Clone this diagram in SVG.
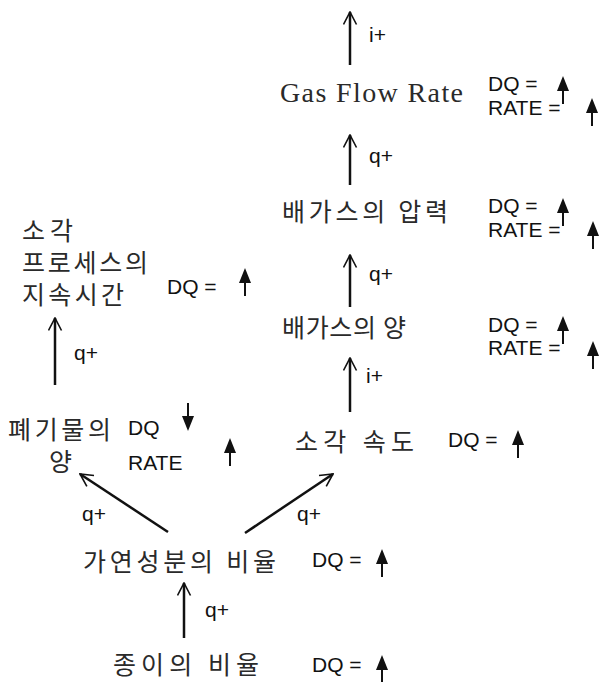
<svg xmlns="http://www.w3.org/2000/svg" xmlns:xlink="http://www.w3.org/1999/xlink" width="602" height="682" viewBox="0 0 602 682">
<style>
.kr{font-family:"Noto Sans CJK KR","Noto Sans",sans-serif;font-size:25px;fill:#2a2a2a}
.en{font-family:"Liberation Serif",serif;font-size:28px;fill:#2a2a2a}
.lb{font-family:"Liberation Sans",Arial,sans-serif;font-size:21px;fill:#111}
.ql{font-family:"Liberation Sans",Arial,sans-serif;font-size:21px;fill:#111}
.edge{stroke:#111;stroke-width:2.5;fill:none;marker-end:url(#open)}
</style>
<defs>
<marker id="open" viewBox="0 0 12 12" refX="11" refY="6" markerWidth="6" markerHeight="6" orient="auto" markerUnits="strokeWidth">
<path d="M1,0.8 L11,6 L1,11.2" fill="none" stroke="#111" stroke-width="1.3"/>
</marker>
<g id="up"><polygon points="0,0 -6,15 6,15" fill="#111"/><line x1="0" y1="14" x2="0" y2="28" stroke="#111" stroke-width="2"/></g>
</defs>

<g id="connectors">
<line class="edge" x1="350" y1="65" x2="350" y2="12"/>
<text class="ql" x="369" y="42">i+</text>
<line class="edge" x1="350" y1="185" x2="350" y2="135"/>
<text class="ql" x="369" y="163">q+</text>
<line class="edge" x1="350" y1="307" x2="350" y2="255"/>
<text class="ql" x="369" y="281">q+</text>
<line class="edge" x1="350" y1="412" x2="350" y2="358"/>
<text class="ql" x="366" y="383">i+</text>
<line class="edge" x1="55" y1="385" x2="55" y2="318"/>
<text class="ql" x="74" y="360">q+</text>
<line class="edge" x1="168" y1="532" x2="80" y2="474"/>
<text class="ql" x="82" y="521">q+</text>
<line class="edge" x1="245" y1="533" x2="333" y2="474"/>
<text class="ql" x="297" y="521">q+</text>
<line class="edge" x1="184" y1="638" x2="184" y2="583"/>
<text class="ql" x="205" y="617">q+</text>
</g>

<g id="gas-flow-rate">
<text class="en" x="280" y="102" textLength="183" lengthAdjust="spacing">Gas Flow Rate</text>
<text class="lb" x="488" y="91">DQ =</text>
<use xlink:href="#up" x="563" y="76"/>
<text class="lb" x="488" y="115">RATE =</text>
<use xlink:href="#up" x="592" y="98"/>
</g>

<g id="exhaust-pressure">
<text class="kr" x="282" y="221" textLength="166" lengthAdjust="spacing">배가스의 압력</text>
<text class="lb" x="488" y="213">DQ =</text>
<use xlink:href="#up" x="563" y="198"/>
<text class="lb" x="488" y="237">RATE =</text>
<use xlink:href="#up" x="593" y="221"/>
</g>

<g id="exhaust-amount">
<text class="kr" x="282" y="337" textLength="124" lengthAdjust="spacing">배가스의 양</text>
<text class="lb" x="488" y="332">DQ =</text>
<use xlink:href="#up" x="563" y="316"/>
<text class="lb" x="488" y="355">RATE =</text>
<use xlink:href="#up" x="593" y="341"/>
</g>

<g id="burn-speed">
<text class="kr" x="295" y="451" textLength="119" lengthAdjust="spacing">소각 속도</text>
<text class="lb" x="448" y="447">DQ =</text>
<use xlink:href="#up" x="518" y="430"/>
</g>

<g id="process-duration">
<text class="kr" x="22" y="240" textLength="51" lengthAdjust="spacing">소각</text>
<text class="kr" x="22" y="272" textLength="126" lengthAdjust="spacing">프로세스의</text>
<text class="kr" x="22" y="304" textLength="102" lengthAdjust="spacing">지속시간</text>
<text class="lb" x="167" y="294">DQ =</text>
<use xlink:href="#up" x="245" y="268"/>
</g>

<g id="waste-amount">
<text class="kr" x="8" y="439" textLength="103" lengthAdjust="spacing">폐기물의</text>
<text class="kr" x="49" y="471">양</text>
<text class="lb" x="128" y="435">DQ</text>
<use xlink:href="#up" transform="translate(188,431) rotate(180)"/>
<text class="lb" x="128" y="470">RATE</text>
<use xlink:href="#up" x="230" y="438"/>
</g>

<g id="combustible-ratio">
<text class="kr" x="83" y="571" textLength="193" lengthAdjust="spacing">가연성분의 비율</text>
<text class="lb" x="312" y="567">DQ =</text>
<use xlink:href="#up" x="382" y="549"/>
</g>

<g id="paper-ratio">
<text class="kr" x="113" y="674" textLength="146" lengthAdjust="spacing">종이의 비율</text>
<text class="lb" x="312" y="672">DQ =</text>
<use xlink:href="#up" x="382" y="655"/>
</g>
</svg>
